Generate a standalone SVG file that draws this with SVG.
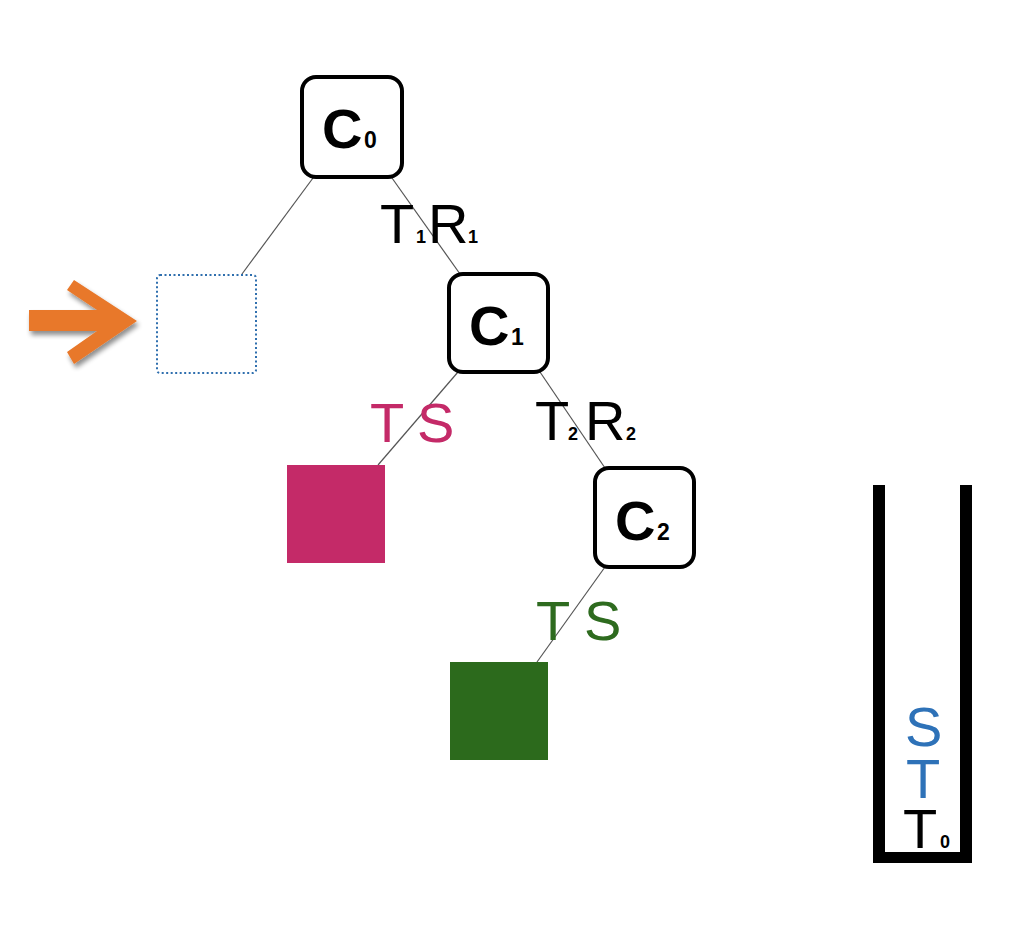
<svg xmlns="http://www.w3.org/2000/svg" width="1024" height="936" viewBox="0 0 1024 936">
<style>
.node{fill:#fff;stroke:#000;stroke-width:4}
.edge{stroke:#555;stroke-width:1.2;fill:none}
.big{font-family:"Liberation Sans",Arial,sans-serif;font-size:56px}
.cl{font-family:"Liberation Sans",Arial,sans-serif;font-size:56px;font-weight:bold}
.sub{font-family:"Liberation Sans",Arial,sans-serif;font-size:18px;font-weight:bold}
.csub{font-family:"Liberation Sans",Arial,sans-serif;font-size:23px;font-weight:bold}
</style>
<defs>
<filter id="sh" x="-20%" y="-20%" width="150%" height="150%">
<feGaussianBlur in="SourceAlpha" stdDeviation="2.5"/>
<feOffset dx="2" dy="4"/>
<feComponentTransfer><feFuncA type="linear" slope="0.45"/></feComponentTransfer>
<feMerge><feMergeNode/><feMergeNode in="SourceGraphic"/></feMerge>
</filter>
</defs>
<rect width="1024" height="936" fill="#fff"/>
<g id="connectors">
<line class="edge" x1="313" y1="178" x2="242" y2="274"/>
<line class="edge" x1="392" y1="178" x2="460" y2="274"/>
<line class="edge" x1="458" y1="372" x2="378" y2="465"/>
<line class="edge" x1="540" y1="372" x2="605" y2="468"/>
<line class="edge" x1="605" y1="567" x2="537" y2="662"/>
</g>
<g id="edge-labels">
<text class="big" x="380" y="243">T</text><text class="sub" x="416" y="243">1</text>
<text class="big" x="428" y="243">R</text><text class="sub" x="468" y="243">1</text>
<text class="big" x="370" y="442" fill="#c42a68">T</text><text class="big" x="417" y="442" fill="#c42a68">S</text>
<text class="big" x="535" y="440">T</text><text class="sub" x="568" y="440">2</text>
<text class="big" x="585" y="440">R</text><text class="sub" x="626" y="440">2</text>
<text class="big" x="536" y="640" fill="#2e6b1f">T</text><text class="big" x="584" y="640" fill="#2e6b1f">S</text>
</g>
<g id="C0">
<rect class="node" x="302" y="77" width="100" height="100" rx="14"/>
<text class="cl" x="322" y="148">C</text><text class="csub" x="364" y="148">0</text>
</g>
<g id="C1">
<rect class="node" x="449" y="274" width="99" height="98" rx="14"/>
<text class="cl" x="469" y="345">C</text><text class="csub" x="511" y="345">1</text>
</g>
<g id="C2">
<rect class="node" x="595" y="468" width="99" height="99" rx="14"/>
<text class="cl" x="615" y="540">C</text><text class="csub" x="657" y="540">2</text>
</g>
<g id="empty-slot">
<rect x="157" y="275" width="99" height="98" rx="3" fill="none" stroke="#2f6fae" stroke-width="2" stroke-dasharray="2 2.5"/>
</g>
<g id="leaf-magenta">
<rect x="287" y="465" width="98" height="98" fill="#c42a68"/>
</g>
<g id="leaf-green">
<rect x="450" y="662" width="98" height="98" fill="#2c6a1c"/>
</g>
<g id="pointer-arrow">
<polygon filter="url(#sh)" fill="#e8782a" points="29,310 97,310 67,290 74,280 137,321 74,364 67,352 97,331 29,331"/>
</g>
<g id="stack">
<rect x="873" y="485" width="12" height="378" fill="#000"/>
<rect x="960" y="485" width="12" height="378" fill="#000"/>
<rect x="873" y="852" width="99" height="11" fill="#000"/>
<text class="big" x="905" y="746" fill="#2e72b8">S</text>
<text class="big" x="906" y="798" fill="#2e72b8">T</text>
<text class="big" x="903" y="848">T</text><text class="sub" x="940" y="848">0</text>
</g>
</svg>
